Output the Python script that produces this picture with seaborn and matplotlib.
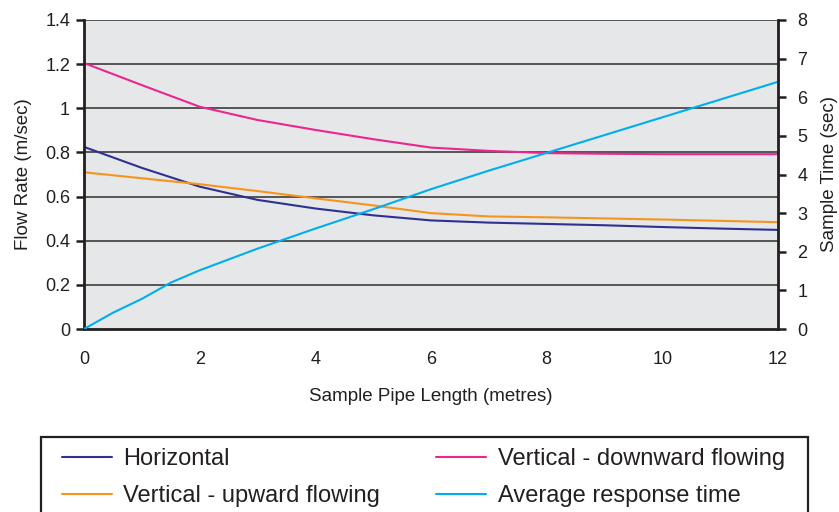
import numpy as np
import pandas as pd
import matplotlib
matplotlib.use("Agg")
import matplotlib.pyplot as plt
from matplotlib.patches import Rectangle
from matplotlib.lines import Line2D
from matplotlib.ticker import FuncFormatter
import seaborn as sns

# ---- data ----
length_m = [0, 1, 2, 3, 4, 5, 6, 7, 8, 9, 10, 11, 12]
horizontal = [0.825, 0.73, 0.645, 0.585, 0.546, 0.515, 0.492, 0.482, 0.476, 0.47, 0.462, 0.455, 0.449]
vertical_down = [1.205, 1.105, 1.007, 0.947, 0.902, 0.86, 0.822, 0.807, 0.797, 0.794, 0.792, 0.792, 0.792]
vertical_up = [0.71, 0.683, 0.656, 0.625, 0.592, 0.56, 0.525, 0.51, 0.506, 0.501, 0.496, 0.49, 0.484]
resp_length_m = [0, 0.5, 1, 1.5, 2, 3, 4, 5, 6, 7, 8, 9, 10, 11, 12]
response_time = [0, 0.42, 0.78, 1.2, 1.52, 2.08, 2.6, 3.1, 3.62, 4.1, 4.56, 5.02, 5.48, 5.94, 6.4]

series_names = ["Horizontal", "Vertical - downward flowing",
                "Vertical - upward flowing", "Average response time"]
legend_order = ["Horizontal", "Vertical - upward flowing",
                "Vertical - downward flowing", "Average response time"]
left_ticks = [0, 0.2, 0.4, 0.6, 0.8, 1.0, 1.2, 1.4]
right_ticks = [0, 1, 2, 3, 4, 5, 6, 7, 8]
x_ticks = [0, 2, 4, 6, 8, 10, 12]

colors = {
    "Horizontal": "#2e3192",
    "Vertical - downward flowing": "#ec268f",
    "Vertical - upward flowing": "#f7941d",
    "Average response time": "#00aeef",
}

sns.set_style("white")
plt.rcParams["font.family"] = ["Liberation Sans", "DejaVu Sans"]
dark = "#231f20"

W, H = 839, 512
fig = plt.figure(figsize=(W / 100, H / 100), dpi=100)
ax = fig.add_axes([84 / W, 1 - 329 / H, (778 - 84) / W, (329 - 20) / H])
ax.set_facecolor("#e6e7e8")
ax2 = ax.twinx()

df = pd.DataFrame({"x": length_m, "Horizontal": horizontal,
                   "Vertical - downward flowing": vertical_down,
                   "Vertical - upward flowing": vertical_up})
dfr = pd.DataFrame({"x": resp_length_m, "Average response time": response_time})

lw = 1.5
for name in series_names[:3]:
    sns.lineplot(data=df, x="x", y=name, ax=ax, color=colors[name], lw=lw, legend=False)
sns.lineplot(data=dfr, x="x", y="Average response time", ax=ax2,
             color=colors["Average response time"], lw=lw, legend=False)

ax.set_xlim(0, 12)
ax.set_ylim(0, 1.4)
ax2.set_ylim(0, 8)
ax.set_xticks(x_ticks)
ax.set_yticks(left_ticks)
ax2.set_yticks(right_ticks)
ax.yaxis.set_major_formatter(FuncFormatter(lambda v, p: f"{v:g}"))

# gridlines
for v in left_ticks[1:]:
    ax.axhline(v, color="#3c3c3c", lw=1.2, zorder=0.5)
ax.set_axisbelow(True)

for a in (ax, ax2):
    for s in a.spines.values():
        s.set_color(dark)
    a.spines["top"].set_visible(False)
ax.spines["left"].set_linewidth(2)
ax.spines["bottom"].set_linewidth(2)
ax2.spines["right"].set_linewidth(2)
ax2.spines["left"].set_visible(False)
ax2.spines["bottom"].set_visible(False)

ax.tick_params(axis="both", direction="out", length=6, width=1.8, color=dark,
               labelsize=13, labelcolor=dark, pad=4)
ax2.tick_params(axis="y", direction="out", length=6, width=1.8, color=dark,
                labelsize=13, labelcolor=dark, pad=8)
ax.tick_params(axis="x", pad=10)

ax.set_xlabel("Sample Pipe Length (metres)", fontsize=13.5, color=dark, labelpad=14)
ax.set_ylabel("Flow Rate (m/sec)", fontsize=13.5, color=dark, labelpad=9)
ax2.set_ylabel("Sample Time (sec)", fontsize=13.5, color=dark, labelpad=10, rotation=90)

# legend
hl = [Line2D([], [], color=colors[n], lw=lw) for n in legend_order]
fig.legend(hl, legend_order, ncol=2, loc="upper left", mode="expand",
           bbox_to_anchor=(62 / W, 1 - 448 / H, (785 - 62) / W, 0),
           frameon=False, fontsize=17, borderpad=0, handlelength=2.1,
           handletextpad=0.5, labelspacing=0.64, borderaxespad=0,
           labelcolor=dark)
fig.patches.append(Rectangle((41 / W, 1 - 540 / H), (808 - 41) / W, (540 - 437) / H,
                             transform=fig.transFigure, fill=False,
                             edgecolor=dark, lw=1.6, clip_on=False))

fig.savefig("out.png", dpi=100)
